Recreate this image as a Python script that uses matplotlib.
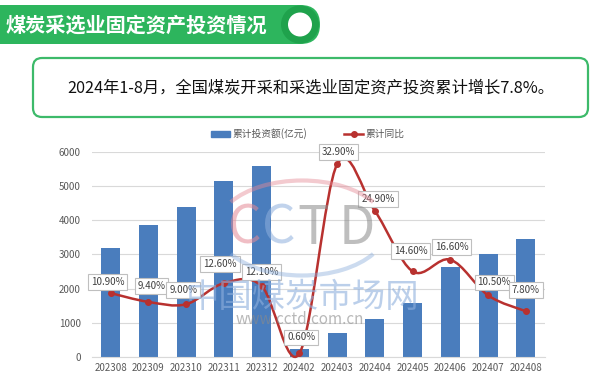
import numpy as np
import matplotlib
matplotlib.use("Agg")
import matplotlib.pyplot as plt
from matplotlib.path import Path
from matplotlib.patches import PathPatch, FancyBboxPatch, Circle, Arc, Patch
from matplotlib.lines import Line2D

plt.rcParams['font.family'] = ['Noto Sans CJK SC', 'DejaVu Sans']

# data
months = ['202308', '202309', '202310', '202311', '202312', '202402',
          '202403', '202404', '202405', '202406', '202407', '202408']
invest = [3180, 3860, 4380, 5150, 5590, 240, 710, 1110, 1580, 2630, 3000, 3440]
yoy = [10.9, 9.4, 9.0, 12.6, 12.1, 0.6, 32.9, 24.9, 14.6, 16.6, 10.5, 7.8]

title = '煤炭采选业固定资产投资情况'
note = '2024年1-8月，全国煤炭开采和采选业固定资产投资累计增长7.8%。'
bar_name = '累计投资额(亿元)'
line_name = '累计同比'

BLUE = '#4a7dbd'
RED = '#b8312f'
GREEN = '#2db55d'
GREY = '#595959'

fig = plt.figure(figsize=(6, 3.8), dpi=100)
fig.patch.set_facecolor('white')

ax = fig.add_axes([0.153, 0.0605, 0.755, 0.540])
x = np.arange(len(months))
ax.bar(x, invest, width=0.5, color=BLUE, zorder=2)
ax.set_xlim(-0.5, len(months) - 0.5)
ax.set_ylim(0, 6000)
ax.set_yticks(range(0, 6001, 1000))
ax.set_xticks(x)
ax.set_xticklabels(months)
ax.tick_params(axis='both', length=0, labelsize=7, colors=GREY)
ax.tick_params(axis='x', pad=4)
ax.tick_params(axis='y', pad=8)
ax.grid(axis='y', color='#d9d9d9', lw=0.8, zorder=0)
for s in ['top', 'right', 'left']:
    ax.spines[s].set_visible(False)
ax.spines['bottom'].set_color('#d9d9d9')

# secondary axis for the growth line (hidden)
ax2 = ax.twinx()
ax2.set_ylim(0, 35)
ax2.axis('off')
ax2.set_xlim(ax.get_xlim())

# smooth line through the points (Catmull-Rom as Bezier)
pts = np.column_stack([x, yoy]).astype(float)
n = len(pts)
verts = [pts[0]]
codes = [Path.MOVETO]
for i in range(n - 1):
    t0 = (pts[min(i + 1, n - 1)] - pts[max(i - 1, 0)]) / 6
    t1 = (pts[min(i + 2, n - 1)] - pts[i]) / 6
    verts += [pts[i] + t0, pts[i + 1] - t1, pts[i + 1]]
    codes += [Path.CURVE4] * 3
ax2.add_patch(PathPatch(Path(verts, codes), fill=False, ec=RED, lw=1.8,
                        clip_on=False, zorder=3))
ax2.plot(x, yoy, 'o', color=RED, ms=4, zorder=4)

# label offsets in pixels (dx, dy)
offs = [(-3, 11), (3, 16), (-3, 14), (-4, 19), (0, 14), (2, 16),
        (1, 12), (3, 12), (-2, 20), (1, 13), (6, 13), (0, 21)]
for i, v in enumerate(yoy):
    ax2.annotate('%.2f%%' % v, (x[i], v), xytext=(offs[i][0] * 0.72, offs[i][1] * 0.72),
                 textcoords='offset points', ha='center', va='center',
                 fontsize=7, color='#404040', zorder=6,
                 bbox=dict(boxstyle='square,pad=0.3', fc='white', ec='#bfbfbf', lw=0.8))

# legend
handles = [Patch(color=BLUE),
           Line2D([], [], color=RED, lw=1.8, marker='o', ms=4)]
fig.legend(handles, [bar_name, line_name], loc='center', ncol=2,
           bbox_to_anchor=(0.5125, 1 - 134 / 380), frameon=False, fontsize=7,
           labelcolor=GREY, handlelength=2.0, handletextpad=0.2, columnspacing=3.8)

# decoration layer in pixel units
deco = fig.add_axes([0, 0, 1, 1], zorder=5)
deco.set_xlim(0, 600)
deco.set_ylim(380, 0)
deco.axis('off')
deco.patch.set_alpha(0)

deco.add_patch(FancyBboxPatch((-30, 5), 350, 39, boxstyle='round,pad=0,rounding_size=19.5',
                              fc=GREEN, ec='none'))
deco.add_patch(Circle((300, 24.5), 19, fc='#1fa24c', ec='none'))
deco.add_patch(Circle((300, 24.5), 12, fc='white', ec='none'))
deco.text(6, 25, title, color='white', fontsize=14.5, fontweight='bold', va='center', ha='left')

deco.add_patch(FancyBboxPatch((33, 58), 555, 59, boxstyle='round,pad=0,rounding_size=9',
                              fc='white', ec='#3dba6a', lw=1.6))
deco.text(311, 88, note, color='#111111', fontsize=11.7, va='center', ha='center')

# watermark
wm = [('C', 245, '#e58a96'), ('C', 279, '#8fb0dd'), ('T', 313, '#8a8a8a'), ('D', 357, '#8a8a8a')]
for ch, cx, col in wm:
    deco.text(cx, 228, ch, color=col, alpha=0.55, fontsize=38, fontweight='medium',
              ha='center', va='center')
deco.add_patch(Arc((302, 228), 170, 95, theta1=200, theta2=340, ec='#e58a96', lw=3, alpha=0.45))
deco.add_patch(Arc((302, 228), 170, 95, theta1=20, theta2=160, ec='#8fb0dd', lw=3, alpha=0.45))
deco.text(303, 297, '中国煤炭市场网', color='#8fb0dd', alpha=0.6, fontsize=24, ha='center', va='center')
deco.text(300, 319, 'www.cctd.com.cn', color='#8a8a8a', alpha=0.6, fontsize=11, ha='center', va='center')

fig.savefig('out.png', dpi=100)
